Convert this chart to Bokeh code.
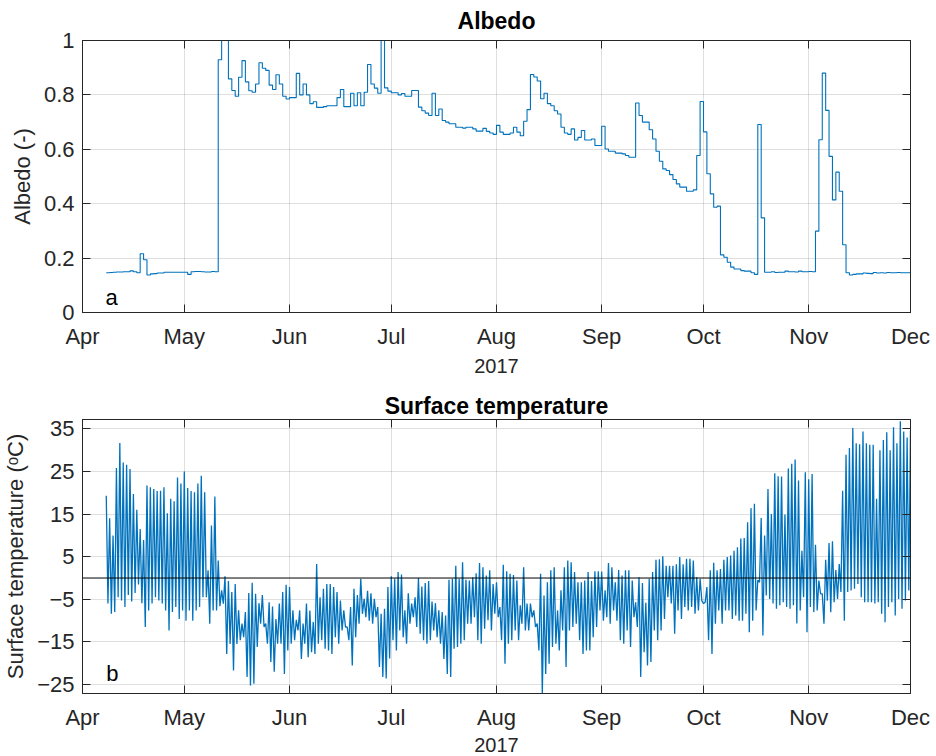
import numpy as np
import pandas as pd
from bokeh.plotting import figure
from bokeh.layouts import column
from bokeh.models import (Range1d, FixedTicker, DatetimeTickFormatter, LinearAxis,
                          DatetimeAxis, Span, Label)
from bokeh.embed import file_html
from bokeh.resources import INLINE

# ---------------------------------------------------------------- data
BASE = pd.Timestamp("2017-04-01")
month_starts = ["2017-04-01", "2017-05-01", "2017-06-01", "2017-07-01", "2017-08-01",
                "2017-09-01", "2017-10-01", "2017-11-01", "2017-12-01"]
year_label = "2017"

# daily albedo, one value per day starting 7 days after 1 April
albedo_first_day = 7
albedo = [
    0.146, 0.147, 0.148, 0.149, 0.149, 0.150, 0.150, 0.153, 0.150, 0.146,
    0.216, 0.194, 0.138, 0.142, 0.143, 0.145, 0.145, 0.148, 0.148, 0.148,
    0.148, 0.148, 0.148, 0.148, 0.140, 0.150, 0.151, 0.151, 0.150, 0.149,
    0.149, 0.151, 0.150, 0.929, 1.000, 1.000, 0.859, 0.816, 0.795, 0.865,
    0.926, 0.848, 0.815, 0.810, 0.840, 0.918, 0.898, 0.890, 0.836, 0.820,
    0.874, 0.840, 0.795, 0.785, 0.790, 0.790, 0.879, 0.800, 0.840, 0.800,
    0.768, 0.775, 0.754, 0.754, 0.757, 0.760, 0.760, 0.760, 0.790, 0.820,
    0.757, 0.757, 0.806, 0.760, 0.808, 0.760, 0.810, 0.912, 0.840, 0.825,
    0.806, 1.000, 0.826, 0.814, 0.808, 0.808, 0.800, 0.805, 0.795, 0.795,
    0.816, 0.816, 0.755, 0.742, 0.733, 0.724, 0.806, 0.724, 0.748, 0.706,
    0.700, 0.694, 0.694, 0.681, 0.681, 0.678, 0.681, 0.681, 0.675, 0.667,
    0.667, 0.677, 0.666, 0.660, 0.655, 0.688, 0.663, 0.655, 0.655, 0.660,
    0.681, 0.663, 0.650, 0.703, 0.746, 0.875, 0.866, 0.851, 0.786, 0.806,
    0.768, 0.760, 0.742, 0.730, 0.681, 0.660, 0.655, 0.675, 0.634, 0.644,
    0.669, 0.634, 0.634, 0.638, 0.614, 0.614, 0.685, 0.601, 0.593, 0.593,
    0.586, 0.586, 0.583, 0.577, 0.571, 0.571, 0.770, 0.724, 0.700, 0.700,
    0.672, 0.638, 0.593, 0.556, 0.528, 0.522, 0.507, 0.489, 0.473, 0.461,
    0.461, 0.446, 0.446, 0.451, 0.577, 0.776, 0.664, 0.510, 0.436, 0.387,
    0.391, 0.212, 0.203, 0.185, 0.167, 0.160, 0.160, 0.154, 0.152, 0.152,
    0.146, 0.140, 0.691, 0.348, 0.148, 0.148, 0.150, 0.147, 0.148, 0.148,
    0.152, 0.150, 0.150, 0.149, 0.152, 0.150, 0.150, 0.151, 0.150, 0.299,
    0.635, 0.880, 0.743, 0.574, 0.414, 0.516, 0.446, 0.249, 0.146, 0.138,
    0.140, 0.142, 0.142, 0.145, 0.144, 0.143, 0.147, 0.145, 0.146, 0.145,
    0.147, 0.146, 0.146, 0.147, 0.146, 0.146, 0.146,
]

# daily surface temperature extremes (deg C), same day numbering
temp_first_day = 7
temp_max = [
    19.3, 14.0, 10.0, 25.8, 31.7, 27.1, 26.6, 25.6, 19.7, 16.0,
    11.5, 8.9, 21.7, 21.3, 20.9, 20.4, 20.5, 21.3, 15.2, 18.6,
    18.0, 23.6, 22.2, 25.0, 21.1, 20.4, 20.1, 22.2, 24.0, 20.1,
    1.8, 12.3, 19.1, 4.1, -2.9, 0.4, -0.7, -3.3, -1.4, -7.6,
    -10.7, -8.0, -3.5, -1.1, -3.7, -5.9, -4.0, -10.7, -5.7, -6.7,
    -9.6, -6.0, -3.3, -1.6, -2.1, -7.6, -9.8, -7.6, -10.7, -6.0,
    -7.6, -10.3, 3.3, -4.5, -2.5, -1.4, -1.4, -2.1, -3.3, -5.3,
    -7.6, -11.5, -6.8, -2.5, -4.0, -0.2, -4.9, -3.0, -3.6, -4.9,
    -6.8, -8.4, -7.2, -2.1, 0.4, -0.2, 1.4, 0.8, -7.6, -3.6,
    -6.0, -4.5, 0.0, -2.0, -1.2, -0.7, -5.5, -5.9, -7.6, -8.0,
    -8.8, -0.4, -0.2, 2.9, -0.2, 3.7, -0.4, -0.6, 0.2, 1.1,
    3.5, 2.5, 0.6, 1.8, -1.4, -1.0, -6.8, 3.1, 1.6, 1.0,
    0.7, -0.6, -6.4, 2.5, -6.0, -6.0, -7.6, -10.7, 1.0, -4.1,
    -1.0, 1.8, 2.5, -7.6, -2.9, 2.5, 4.1, 3.7, 1.4, -1.0,
    -1.0, -0.6, 1.4, -0.7, 1.6, 1.6, 1.5, -2.9, 3.5, 2.5,
    -1.0, 1.9, 0.6, 1.8, 1.8, -0.6, -5.7, 0.2, -1.2, -5.8,
    -0.2, 1.4, 4.3, 4.4, 5.1, 2.9, 2.9, 2.9, 3.2, 4.9,
    3.2, 4.5, 4.5, 4.1, 0.2, -0.2, -6.0, -2.1, 1.8, 3.6,
    1.8, 2.1, 4.3, 4.9, 5.3, 6.4, 7.2, 9.3, 9.4, 13.1,
    16.4, 17.4, -0.5, 14.1, 10.0, 20.9, 15.0, 24.6, 23.9, 23.8,
    14.9, 25.7, 26.8, 27.8, 22.9, 6.4, 24.8, 23.2, 24.4, 7.8,
    -0.6, -3.7, 4.3, 8.2, 8.6, 1.9, 3.3, 20.5, 28.9, 30.5,
    35.2, 31.6, 31.4, 34.4, 31.6, 31.3, 31.3, 18.6, 30.0, 32.4,
    34.2, 30.0, 35.4, 31.6, 36.8, 34.4, 33.0, 34.7,
]
temp_min = [
    -6.0, -8.4, -8.0, -4.5, -5.3, -6.8, -4.0, -5.5, -3.5, -1.5,
    -5.9, -11.5, -7.6, -6.0, -4.5, -5.3, -6.0, -7.6, -12.3, -8.0,
    -6.8, -9.6, -7.6, -10.0, -7.6, -10.0, -7.6, -6.8, -4.5, -4.5,
    -10.7, -7.6, -7.6, -6.6, -6.0, -17.8, -15.5, -21.7, -15.5, -14.6,
    -13.9, -23.2, -25.2, -24.8, -16.2, -10.7, -11.5, -15.4, -19.7, -22.0,
    -15.4, -15.4, -22.5, -17.0, -15.4, -14.6, -12.3, -19.0, -15.4, -18.6,
    -17.4, -17.8, -15.4, -14.6, -16.6, -17.0, -17.8, -13.9, -15.4, -12.3,
    -11.5, -14.6, -20.5, -13.9, -10.7, -8.4, -9.2, -10.0, -10.7, -9.2,
    -20.9, -23.2, -23.6, -18.9, -14.6, -17.0, -12.3, -13.9, -15.4, -10.7,
    -9.2, -11.5, -13.1, -14.6, -15.4, -14.6, -12.3, -13.9, -15.4, -19.0,
    -22.5, -23.2, -16.6, -16.2, -15.4, -14.6, -10.7, -10.7, -9.2, -14.6,
    -15.4, -11.9, -9.9, -12.3, -8.4, -9.2, -14.6, -20.1, -15.4, -14.6,
    -12.3, -14.6, -10.7, -12.3, -12.3, -9.2, -11.5, -17.0, -27.1, -22.5,
    -20.1, -16.2, -15.4, -17.0, -12.3, -20.9, -12.3, -11.5, -10.7, -14.6,
    -17.8, -17.0, -17.0, -13.9, -11.5, -7.6, -10.0, -9.2, -10.7, -7.6,
    -10.0, -14.6, -15.4, -12.3, -16.2, -9.2, -11.5, -23.2, -17.4, -20.5,
    -19.7, -12.3, -14.6, -12.3, -9.6, -4.5, -6.0, -13.1, -7.6, -9.6,
    -6.8, -7.6, -6.8, -8.4, -7.6, -5.3, -5.7, -14.6, -17.8, -10.7,
    -7.6, -10.7, -7.6, -7.6, -9.6, -8.8, -10.0, -10.0, -8.4, -12.7,
    -10.0, -7.6, -1.0, -13.5, -4.1, -4.9, -6.0, -7.2, -6.4, -5.7,
    -6.8, -7.2, -6.4, -10.7, -7.6, -4.5, -12.7, -6.8, -8.0, -7.6,
    -3.7, -10.7, -5.3, -8.0, -5.7, -4.9, -3.3, -10.0, -3.3, -2.9,
    -2.5, -1.4, -4.5, -5.7, -5.7, -5.7, -6.0, -5.7, -8.4, -10.4,
    -6.8, -5.7, -8.8, -4.9, -7.2, -5.3, -2.9, -3.7,
]

albedo_ticks = [0, 0.2, 0.4, 0.6, 0.8, 1]
temp_ticks = [-25, -15, -5, 5, 15, 25, 35]
temp_limits = (-27.1, 37.2)
freezing_point = 0

# ---------------------------------------------------------------- helpers
LINE = "#0072BD"
INK = "#262626"
FONT = "Liberation Sans"


def to_ms(day):
    """Day offset from 1 April 2017 -> epoch milliseconds."""
    return (BASE + pd.to_timedelta(day, unit="D")).value / 1e6


month_ms = [pd.Timestamp(m).value / 1e6 for m in month_starts]
x_start, x_end = month_ms[0], month_ms[-1]
month_ticker = FixedTicker(ticks=month_ms)
month_fmt = DatetimeTickFormatter(months="%b", days="%b", hours="%b", years="%b")


def mirror_axis(cls, ticker, **kw):
    """Unlabelled axis that only repeats the inward ticks on the far edge."""
    return cls(ticker=ticker,
               major_label_text_color=None, major_label_text_font_size="1px",
               major_label_standoff=0,
               major_tick_in=8, major_tick_out=0,
               minor_tick_line_color=None, axis_line_color=INK,
               major_tick_line_color=INK, **kw)


def style(p, yticks, ylabel, title, title_gap, year_gap):
    xa = p.xaxis[0]
    xa.ticker = month_ticker
    xa.formatter = month_fmt
    xa.axis_label = year_label
    xa.axis_label_text_font = FONT
    xa.axis_label_text_font_size = "20px"
    xa.axis_label_text_font_style = "normal"
    xa.axis_label_text_color = INK
    xa.axis_label_standoff = year_gap

    ya = p.yaxis[0]
    ya.ticker = FixedTicker(ticks=yticks)
    ya.axis_label = ylabel
    ya.axis_label_text_font = FONT
    ya.axis_label_text_font_size = "22px"
    ya.axis_label_text_font_style = "normal"
    ya.axis_label_text_color = INK
    ya.axis_label_standoff = 6
    for ax in (xa, ya):
        ax.major_tick_in = 8
        ax.major_tick_out = 0
        ax.minor_tick_line_color = None
        ax.axis_line_color = INK
        ax.major_tick_line_color = INK
        ax.major_label_text_font = FONT
        ax.major_label_text_font_size = "22px"
        ax.major_label_text_color = INK
    xa.major_label_standoff = 11
    ya.major_label_standoff = 8

    # box edges: inward ticks on top and right, the panel title on top
    top = mirror_axis(DatetimeAxis, month_ticker, formatter=month_fmt)
    top.axis_label = title
    top.axis_label_text_font = FONT
    top.axis_label_text_font_size = "23px"
    top.axis_label_text_font_style = "bold"
    top.axis_label_text_color = "black"
    top.axis_label_standoff = title_gap
    p.add_layout(top, "above")
    p.add_layout(mirror_axis(LinearAxis, FixedTicker(ticks=yticks)), "right")

    p.xgrid.ticker = month_ticker
    p.ygrid.ticker = FixedTicker(ticks=yticks)
    p.grid.grid_line_color = INK
    p.grid.grid_line_alpha = 0.15
    p.outline_line_color = INK
    p.outline_line_alpha = 1.0
    p.background_fill_color = "white"
    p.border_fill_color = "white"


# ---------------------------------------------------------------- albedo
p1 = figure(width=936, height=385, x_axis_type="datetime",
            x_range=Range1d(x_start, x_end), y_range=Range1d(0, 1),
            output_backend="svg", toolbar_location=None,
            min_border_left=80, min_border_right=26,
            min_border_top=40, min_border_bottom=73)
style(p1, albedo_ticks, "Albedo (-)", "Albedo", title_gap=7, year_gap=7)

a_days = list(range(albedo_first_day, albedo_first_day + len(albedo) + 1))
a_vals = albedo + [albedo[-1]]
p1.step([to_ms(d) for d in a_days], a_vals, mode="after",
        line_color=LINE, line_width=1.1)
p1.add_layout(Label(x=to_ms(6.8), y=0.055, text="a", text_font=FONT,
                    text_font_size="22px", text_color="black",
                    text_baseline="alphabetic"))

# ---------------------------------------------------------------- surface temperature
p2 = figure(width=936, height=371, x_axis_type="datetime",
            x_range=Range1d(x_start, x_end), y_range=Range1d(*temp_limits),
            output_backend="svg", toolbar_location=None,
            min_border_left=80, min_border_right=26,
            min_border_top=34, min_border_bottom=63)
style(p2, temp_ticks, "Surface temperature (\u1d52C)", "Surface temperature",
      title_gap=1, year_gap=5)

t_x, t_y = [], []
for i, (hi, lo) in enumerate(zip(temp_max, temp_min)):
    d = temp_first_day + i
    t_x += [to_ms(d), to_ms(d + 0.5)]
    t_y += [hi, lo]
p2.line(t_x, t_y, line_color=LINE, line_width=1.3)
p2.add_layout(Span(location=freezing_point, dimension="width",
                   line_color="black", line_width=1))
p2.add_layout(Label(x=to_ms(7.0), y=-22.5, text="b", text_font=FONT,
                    text_font_size="22px", text_color="black",
                    text_baseline="alphabetic"))

layout = column(p1, p2, spacing=0)
open("out.html", "w").write(file_html(layout, INLINE))
